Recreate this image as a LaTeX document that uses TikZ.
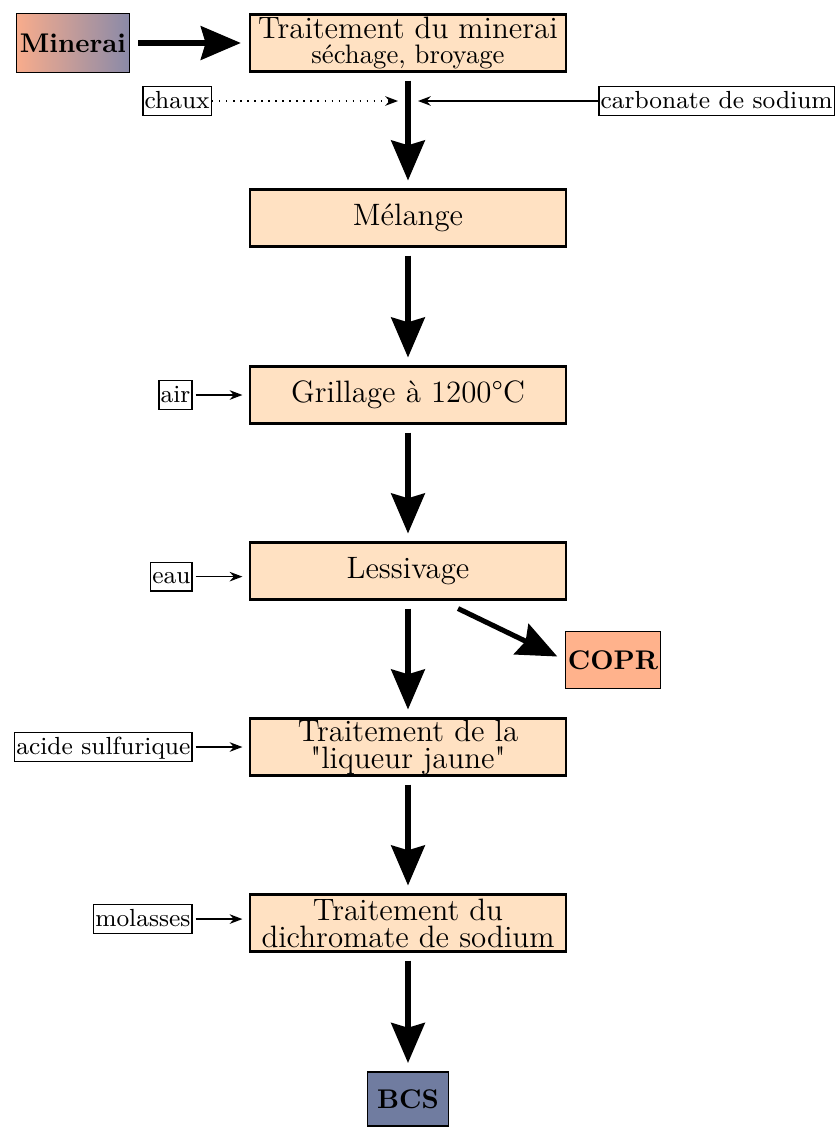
\documentclass[tikz,border=0pt]{standalone}
\usepackage{tikz}
\usetikzlibrary{arrows.meta, positioning, calc}
\definecolor{Peche}{RGB}{255,225,194}
\definecolor{Saumon}{RGB}{255,178,140}
\definecolor{Ardoise}{RGB}{112,124,160}
\definecolor{MinG}{RGB}{248,172,140}
\definecolor{MinD}{RGB}{138,138,168}

\begin{document}
\begin{tikzpicture}[
    x=0.0125cm, y=-0.0125cm,
    flow/.style={-{Stealth[length=0.5cm, width=0.42cm, inset=0.06cm]}, line width=1.8pt,
        shorten <=0.1cm, shorten >=0.1cm},
    feed/.style={-{Stealth[length=0.16cm, width=0.12cm]}, line width=0.5pt},
    etape/.style={draw, line width=0.8pt, fill=Peche, align=center, inner sep=0pt,
        minimum width=3.95cm, minimum height=0.71cm,
        font=\fontsize{11}{9.6}\selectfont},
    lbl/.style={draw, line width=0.5pt, fill=white, inner sep=0.6pt,
        text height=7pt, text depth=2pt, font=\fontsize{8.8}{10}\selectfont},
    prod/.style={draw, line width=0.6pt, inner sep=0pt, minimum height=0.71cm,
        font=\fontsize{9.6}{11}\selectfont\bfseries},
]
\useasboundingbox (0,0) rectangle (837,1127);

% chaine principale
\node[etape] (trait) at (408,43)
    {Traitement du minerai\\[-1pt]{\fontsize{9.5}{9}\selectfont séchage, broyage}};
\node[etape] (melange)  at (408,218) {Mélange};
\node[etape] (grillage) at (408,395) {Grillage à 1200°C};
\node[etape] (lessiv)   at (408,571) {Lessivage};
\node[etape] (liqueur)  at (408,747)
    {Traitement de la\\\textquotedbl liqueur jaune\textquotedbl};
\node[etape] (dichrom)  at (408,923) {Traitement du\\dichromate de sodium};

% entree / sorties
\node[prod, left color=MinG, right color=MinD, minimum width=1.41cm, minimum height=0.74cm]
    (minerai) at (73,43) {Minerai};
\node[prod, fill=Saumon, minimum width=1.19cm] (copr) at (613,660) {COPR};
\node[prod, fill=Ardoise, minimum width=1.01cm, minimum height=0.68cm] (bcs) at (408,1099) {BCS};

\draw[flow] (minerai) -- (trait);
\draw[flow] (trait) -- (melange);
\draw[flow] (melange) -- (grillage);
\draw[flow] (grillage) -- (lessiv);
\draw[flow] (lessiv) -- (liqueur);
\draw[flow] (liqueur) -- (dichrom);
\draw[flow] (dichrom) -- (bcs);
\draw[flow, shorten <=0pt] ($(lessiv.south)+(50,8)$) -- (copr.west);

% reactifs
\node[lbl, anchor=east] (chaux) at (212,101) {chaux};
\node[lbl, anchor=east] (carbo) at (835,101) {carbonate de sodium};
\coordinate (chauxFin) at (398,101);
\coordinate (carboFin) at (418,101);
\draw[feed, dotted] (chaux) -- (chauxFin);
\draw[feed] (carbo) -- (carboFin);

\node[lbl, left=0.7cm of grillage] (air) {air};
\node[lbl, left=0.7cm of lessiv, yshift=-2pt] (eau) {eau};
\node[lbl, left=0.7cm of liqueur] (acide) {acide sulfurique};
\node[lbl, left=0.7cm of dichrom, yshift=1.4pt] (molas) {molasses};
\foreach \src/\dst in {air/grillage, eau/lessiv, acide/liqueur, molas/dichrom}
    \draw[feed, shorten <=1pt, shorten >=0.08cm] (\src) -- (\src -| \dst.west);

\end{tikzpicture}
\end{document}
